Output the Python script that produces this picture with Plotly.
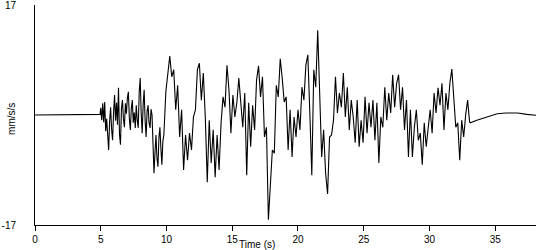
import plotly.graph_objects as go

# Flat pre-event section (time s, value mm/s/s)
pre_t = [0.0, 0.9, 0.95, 4.95]
pre_v = [0.0, 0.0, 0.1, 0.1]

# Early high-frequency part, sampled every 0.075 s starting at 5.0 s
early_start = 5.0
early_dt = 0.075
early_v = [
    1.1, -0.8, 1.8, -1.1, 2.0, -2.5, -0.6, -3.6, -5.4, -1.0,
    1.2, -2.2, -3.9, 0.4, 3.1, -0.9, 1.9, -1.5, 4.2, -3.0,
    -4.6, 1.0, 2.3, -0.6, -1.9, 1.8, 0.2, 2.6, 3.6, -0.5,
    -2.3, 1.0, 2.3, -1.2, 0.4, -2.0, 1.5, -0.8, -2.0, 3.5,
    5.7, 0.3, -2.8, 1.6, 3.9, -0.9, -3.4, 0.6, 1.5, -1.2,
    -2.0, 0.9, 0.0, -4.5, -9.0, -5.8, -3.1, -6.6, -8.0, -3.5,
    -1.9, -5.2, -7.7, -4.0, -3.1,
]
early_t = [round(early_start + early_dt * i, 3) for i in range(len(early_v))]

# Main strong-motion part, sampled every 0.15 s starting at 9.95 s
strong_start = 9.95
strong_dt = 0.15
strong_v = [
    3.6, 6.6, 9.1, 5.9, 7.0, 0.8, 4.6,
    -3.4, 0.8, -8.5, -3.1, -7.0, -2.8, -5.4, -0.3, 0.8, 7.0,
    8.0, 2.3, 6.5, -0.3, -10.4, -0.8, -7.4, -2.3, -9.6, -3.1,
    -8.5, -1.2, 2.8, 1.2, 7.7, 3.9, -2.8, 3.1, -0.3, 1.9,
    5.7, 2.3, -1.9, 3.4, -9.3, 1.9, -4.9, 1.5, -2.3, 5.4,
    7.6, 2.8, 5.9, -3.4, -1.9, -16.2, -9.6, -5.4, -5.9, 4.6,
    2.8, 8.7, 5.7, 2.0, 2.8, -5.4, 0.8, -6.5, -0.3, -3.4,
    0.8, -2.3, 4.3, 2.3, 7.7, 9.3, 0.3, -9.3, 7.0, 4.3,
    13.1, 4.3, -6.5, -2.3, -9.0, -12.2, -3.4, -3.1, -0.8, 5.9,
    0.3, 3.4, 1.2, 6.5, -0.3, 4.3, -2.3, 2.3, -0.3, -4.3,
    2.3, -4.9, -0.8, -4.3, 2.8, -2.8, 1.9, -1.9, 2.3, -3.9,
    1.9, -7.4, -0.3, -1.9, 4.3, -0.8, 3.4, 0.3, 6.2, 1.2,
    4.9, 6.2, 0.8, 4.3, -2.3, 2.3, -6.5, 0.8, -6.5, -1.9,
    0.8, -3.9, -2.8, -7.7, -1.2, -4.9, -1.5, 0.8, -2.8, 3.4,
    0.3, 4.2, 1.5, 4.9, -2.3, 3.4, 0.8, 4.9, 7.1, 2.3,
    -1.9, -1.2, -7.0, -0.8, -3.4, 0.0, 2.3, -1.1,
]
strong_t = [round(strong_start + strong_dt * i, 3) for i in range(len(strong_v))]

# Post-event recovery section
post_t = [33.1, 33.6, 34.1, 34.6, 35.15, 35.8, 36.7, 37.4, 38.1]
post_v = [-1.2, -0.8, -0.45, -0.15, 0.2, 0.3, 0.3, 0.1, -0.05]

t = pre_t + early_t + strong_t + post_t
v = pre_v + early_v + strong_v + post_v

x_ticks = [0, 5, 10, 15, 20, 25, 30, 35]
y_ticks = [-17, 17]

FONT = "Liberation Sans, Arial, sans-serif"

fig = go.Figure()
fig.add_trace(go.Scatter(x=t, y=v, mode="lines",
                         line=dict(color="black", width=1.1), hoverinfo="skip"))

fig.update_layout(
    width=550, height=250,
    margin=dict(l=35, r=14, t=5, b=25),
    paper_bgcolor="white", plot_bgcolor="white",
    showlegend=False,
    font=dict(family=FONT, size=10, color="black"),
)
fig.update_xaxes(
    range=[0, 38.1], tickvals=x_ticks, ticktext=[str(x) for x in x_ticks],
    showgrid=False, zeroline=False, showline=True, linecolor="black", linewidth=1,
    ticks="outside", ticklen=5, tickcolor="black", tickwidth=1,
    tickfont=dict(family=FONT, size=10, color="black"),
    ticklabeloverflow="allow", automargin=False,
)
fig.update_yaxes(
    range=[-17, 17], tickvals=y_ticks, ticktext=[str(y) for y in y_ticks],
    showgrid=False, zeroline=False, showline=True, linecolor="black", linewidth=1,
    ticks="", ticklabelstandoff=16, ticklabeloverflow="allow", automargin=False,
    tickfont=dict(family=FONT, size=10, color="black"),
)
fig.add_annotation(text="Time (s)", xref="paper", yref="paper",
                   x=0.443, y=-0.117, xanchor="center", yanchor="bottom",
                   borderpad=0, showarrow=False,
                   font=dict(family=FONT, size=10, color="black"))
fig.add_annotation(text="mm/s/s", xref="paper", yref="paper",
                   x=-0.046, y=0.482, xanchor="center", yanchor="middle",
                   textangle=-90, showarrow=False,
                   font=dict(family=FONT, size=10, color="black"))

fig.write_html("out.html")
